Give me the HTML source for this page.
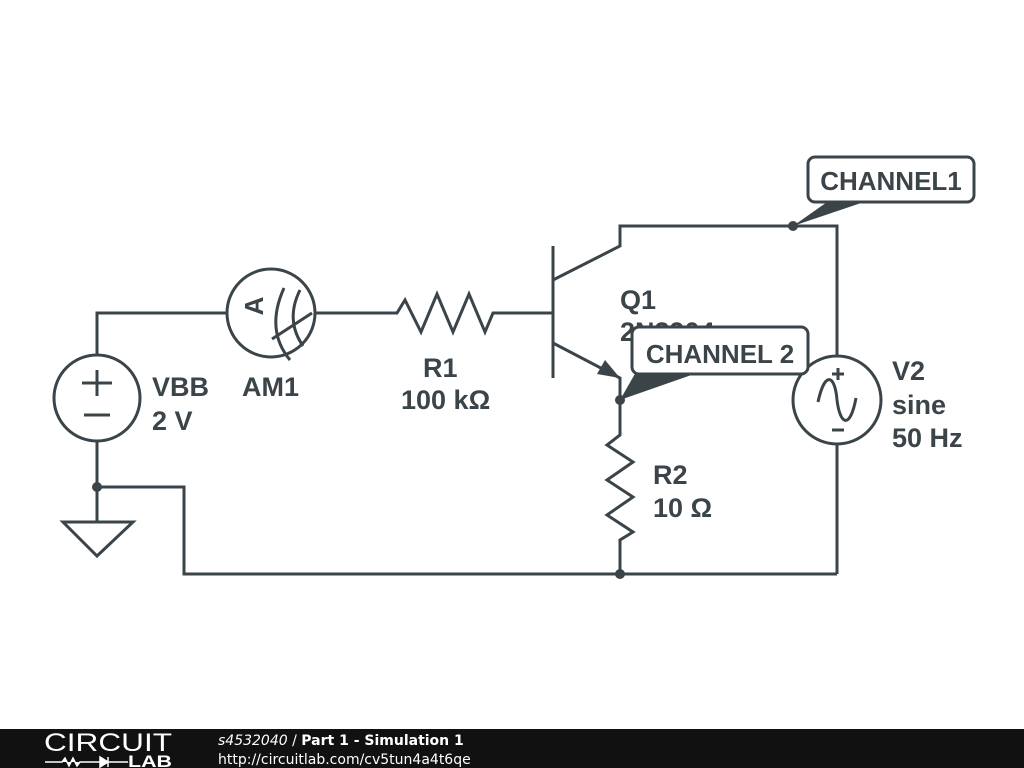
<!DOCTYPE html>
<html><head><style>body{margin:0;background:#fff}svg{display:block}</style></head><body>
<svg width="1024" height="768" xmlns="http://www.w3.org/2000/svg" font-family="Liberation Sans, DejaVu Sans, sans-serif">
<g stroke="#3b4449" stroke-width="3" fill="none" stroke-linejoin="miter">
<polyline points="97,355 97,313 227,313"/>
<circle cx="97" cy="398" r="43"/>
<line x1="82" y1="383" x2="112" y2="383"/><line x1="97" y1="370" x2="97" y2="396"/>
<line x1="84" y1="415" x2="110" y2="415"/>
<line x1="97" y1="441" x2="97" y2="522"/>
<polygon points="63,522 133,522 97,556"/>
<polyline points="97,487 184,487 184,574 837,574"/>
<circle cx="271" cy="313" r="44"/>
<path d="M284,288 Q265,330 290,360"/><path d="M300,290 Q285,320 303,346"/><line x1="272" y1="339" x2="312" y2="313"/>
<polyline points="315,313 397,313 405,300 421,332 437,294 453,332 469,294 485,332 493,313 553,313"/>
<line x1="553" y1="246" x2="553" y2="378"/>
<polyline points="553,280 620,246 620,226 837,226 837,356"/>
<polyline points="553,343 620,378 620,435 607,445 633,462 607,480 633,497 607,515 633,532 620,540 620,574"/>
<circle cx="837" cy="400" r="44"/>
<path d="M818,402 C825,370 835,375 837,400 C840,425 850,430 856,398"/>
<line x1="832" y1="374" x2="844" y2="374"/><line x1="838" y1="368" x2="838" y2="380"/>
<line x1="832" y1="430" x2="844" y2="430"/>
<line x1="837" y1="444" x2="837" y2="574"/>
</g>
<polygon points="620,378 597,374 605,360" fill="#3b4449"/>
<g fill="#3b4449"><circle cx="97" cy="487" r="5"/><circle cx="620" cy="574" r="5"/><circle cx="620" cy="400" r="5"/><circle cx="793" cy="226" r="5"/></g>
<g fill="#3b4449" font-weight="bold" font-size="27">
<text x="152" y="396">VBB</text><text x="152" y="430">2 V</text>
<text x="242" y="396">AM1</text>
<text x="423" y="377">R1</text><text x="401" y="409">100 kΩ</text>
<text x="620" y="309">Q1</text><text x="620" y="341">2N3904</text>
<text x="653" y="484">R2</text><text x="653" y="517">10 Ω</text>
<text x="892" y="380">V2</text><text x="892" y="414">sine</text><text x="892" y="447">50 Hz</text>
</g>
<text x="262" y="321" font-size="26" font-weight="bold" fill="#3b4449" text-anchor="middle" transform="rotate(-90 255 313)">A</text>
<polygon points="793,226 830,200 870,200" fill="#3b4449"/>
<rect x="808" y="157" width="166" height="45" rx="7" fill="#fff" stroke="#3b4449" stroke-width="3"/>
<text x="891" y="190" font-size="26" font-weight="bold" fill="#3b4449" text-anchor="middle">CHANNEL1</text>
<polygon points="620,400 636,372 700,372" fill="#3b4449"/>
<rect x="632" y="327" width="176" height="47" rx="7" fill="#fff" stroke="#3b4449" stroke-width="3"/>
<text x="720" y="363" font-size="26" font-weight="bold" fill="#3b4449" text-anchor="middle">CHANNEL 2</text>
<rect x="0" y="729" width="1024" height="39" fill="#111"/>
<text x="44" y="751" font-size="25" fill="#fff" textLength="128" lengthAdjust="spacingAndGlyphs">CIRCUIT</text>
<text x="128" y="767" font-size="17" font-weight="bold" fill="#fff" textLength="44" lengthAdjust="spacingAndGlyphs">LAB</text>
<path d="M45,762 H62 l3,-4 4,8 4,-8 4,8 3,-4 H100 M100,757 v10 l8,-5 z M108,757 v10 M108,762 H128" stroke="#fff" stroke-width="1.5" fill="#fff"/>
<text x="218" y="745" font-size="14" fill="#fff" font-family="DejaVu Sans, sans-serif"><tspan font-style="italic">s4532040</tspan> / <tspan font-weight="bold">Part 1 - Simulation 1</tspan></text>
<text x="218" y="764" font-size="14" fill="#fff" font-family="DejaVu Sans, sans-serif">http://circuitlab.com/cv5tun4a4t6qe</text>
</svg>
</body></html>
